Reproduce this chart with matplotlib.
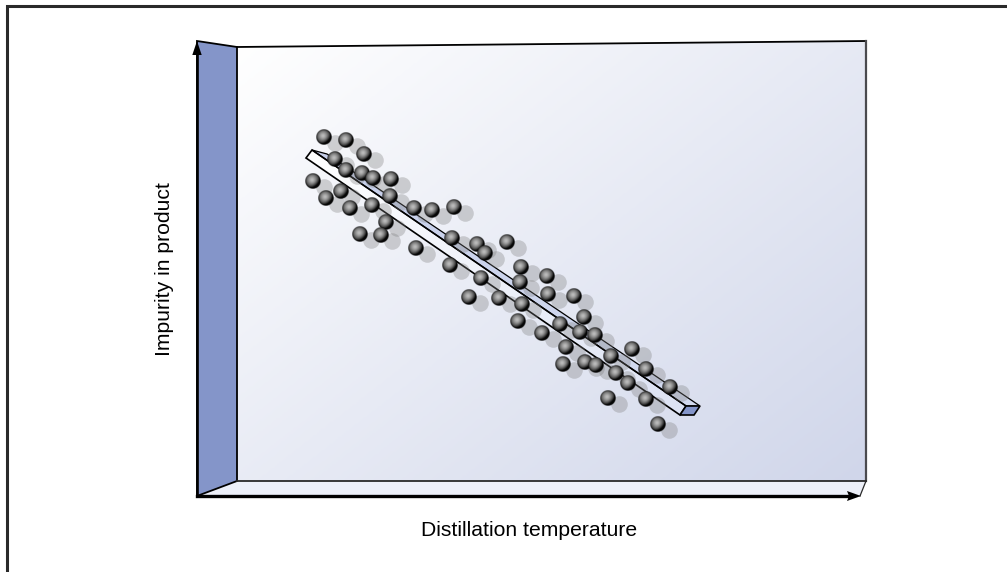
import numpy as np
import matplotlib
matplotlib.use('Agg')
import matplotlib.pyplot as plt
from matplotlib.colors import LinearSegmentedColormap
from matplotlib.patches import Polygon

plt.rcParams['font.family'] = ['Liberation Sans', 'DejaVu Sans']

#----- scatter, in picture pixels
temperature = [324, 346, 364, 335, 346, 362, 373, 391, 313, 341, 326, 390, 372, 350, 414,
               432, 454, 386, 360, 381, 416, 452, 477, 485, 507, 450, 521, 547, 520, 481,
               548, 574, 469, 499, 522, 584, 518, 560, 580, 595, 542, 566, 611, 563, 585,
               596, 616, 632, 646, 628, 670, 608, 646, 658]
impurity = [137, 140, 154, 159, 170, 173, 178, 179, 181, 191, 198, 196, 205, 208, 208,
            210, 207, 222, 234, 235, 248, 238, 244, 253, 242, 265, 267, 276, 282, 278,
            294, 296, 297, 298, 304, 317, 321, 324, 332, 335, 333, 347, 356, 364, 362,
            365, 373, 349, 369, 383, 387, 398, 399, 424]

xlabel = 'Distillation temperature'
ylabel = 'Impurity in product'

WALL = '#8495c9'
BALL_R = 8.0
SHADOW_R = 8.3


def gradient(ax, pts, c0, c1, angle):
    # linear gradient clipped to a polygon, angle in degrees (picture coords)
    pts = np.array(pts, dtype=float)
    x0, y0 = pts.min(axis=0)
    x1, y1 = pts.max(axis=0)
    yy, xx = np.mgrid[0:1:200j, 0:1:300j]
    a = np.radians(angle)
    g = xx * (x1 - x0) * np.cos(a) + yy * (y1 - y0) * np.sin(a)
    g = (g - g.min()) / (g.max() - g.min())
    cmap = LinearSegmentedColormap.from_list('g', [c0, c1])
    im = ax.imshow(g, cmap=cmap, extent=(x0, x1, y1, y0), aspect='auto', zorder=1,
                   interpolation='bilinear')
    clip = Polygon(pts, closed=True, transform=ax.transData, fc='none', ec='none')
    ax.add_patch(clip)
    im.set_clip_path(clip)


def ball_sprite(n=61):
    yy, xx = np.mgrid[-1:1:n * 1j, -1:1:n * 1j]
    r = np.hypot(xx, yy)
    d = np.hypot(xx + 0.12, yy + 0.16)
    v = 0.74 - 0.56 * np.clip((d - 0.05) / 0.9, 0, 1) ** 1.3
    # dark rim towards the lower right
    v = v - 0.30 * np.clip((xx + yy) * 0.9, 0, 1) ** 2 - 0.15 * np.clip((r - 0.75) / 0.25, 0, 1)
    v = np.clip(v, 0.02, 1)
    rgba = np.dstack([v, v, v, np.clip((1 - r) * n / 2.5, 0, 1)])
    return rgba


fig = plt.figure(figsize=(10.07, 5.72), dpi=100)
ax = fig.add_axes([0, 0, 1, 1])
ax.axis('off')

#----- outer frame, open at right and bottom
ax.plot([7, 7, 1007], [572, 5.5, 5.5], color='#2a2a2a', lw=2.2, zorder=2,
        solid_joinstyle='miter')

#----- back panel, wall, floor
panel = [(237, 47), (866, 41), (866, 481), (237, 481)]
gradient(ax, panel, '#ffffff', '#d0d6ea', 52)
floor = [(197, 496), (237, 481), (866, 481), (860, 496)]
ax.add_patch(Polygon(floor, closed=True, fc='#edf0f9', ec='none', zorder=1.5))
wall = [(197, 41), (237, 47), (237, 481), (197, 496)]
ax.add_patch(Polygon(wall, closed=True, fc=WALL, ec='black', lw=1.3, zorder=2))
ax.plot([237, 866], [47, 41], color='black', lw=1.3, zorder=2)
ax.plot([866, 866], [41, 481], color='#4a4a4e', lw=1.6, zorder=2)
ax.plot([237, 866], [481, 481], color='#2a2a2a', lw=1.3, zorder=2)
ax.plot([866, 860], [481, 496], color='#2a2a2a', lw=0.9, zorder=2)

#----- fitted bar
bar_top = [(312, 150), (327, 154), (700, 406), (686, 406)]
bar_front = [(306, 158), (312, 150), (686, 406), (680, 415)]
bar_end = [(680, 415), (686, 406), (700, 406), (694, 415)]
gradient(ax, bar_top, '#c6cfea', '#d3daef', 30)
ax.add_patch(Polygon(bar_top, closed=True, fc='none', ec='black', lw=0.9, zorder=2))
gradient(ax, bar_front, '#ffffff', '#dce2f3', 30)
ax.add_patch(Polygon(bar_front, closed=True, fc='none', ec='black', lw=1.2, zorder=2))
ax.add_patch(Polygon(bar_end, closed=True, fc=WALL, ec='black', lw=1.2, zorder=2))

#----- axes arrows
ax.plot([197, 197], [496, 50], color='black', lw=1.9, zorder=3, solid_capstyle='butt')
ax.plot([197, 850], [496, 496], color='black', lw=2.4, zorder=3, solid_capstyle='projecting')
ax.add_patch(Polygon([(197, 41), (192.3, 55), (201.7, 55)], closed=True, fc='black', ec='none', zorder=3))
ax.add_patch(Polygon([(861, 496), (847, 491), (849, 496), (847, 501)], closed=True, fc='black', ec='none', zorder=3))

#----- balls and their shadows
tx = np.array(temperature, dtype=float)
ty = np.array(impurity, dtype=float)
size = (2 * SHADOW_R * 0.72) ** 2
ax.scatter(tx + 10.5, ty + 5.5, s=size, color='#7c7c7c', alpha=0.33, linewidths=0, zorder=4)
sprite = ball_sprite()
for i in range(len(tx)):
    ax.imshow(sprite, extent=(tx[i] - BALL_R, tx[i] + BALL_R, ty[i] + BALL_R, ty[i] - BALL_R),
              aspect='auto', zorder=5 + i * 0.01, interpolation='bilinear')

ax.text(529, 531, xlabel, ha='center', va='center', fontsize=15.2, color='black')
ax.text(164.5, 269, ylabel, ha='center', va='center', rotation=90, fontsize=15.2, color='black')

ax.set_xlim(0, 1007)
ax.set_ylim(572, 0)
fig.savefig('out.png', dpi=100)
plt.close('all')
